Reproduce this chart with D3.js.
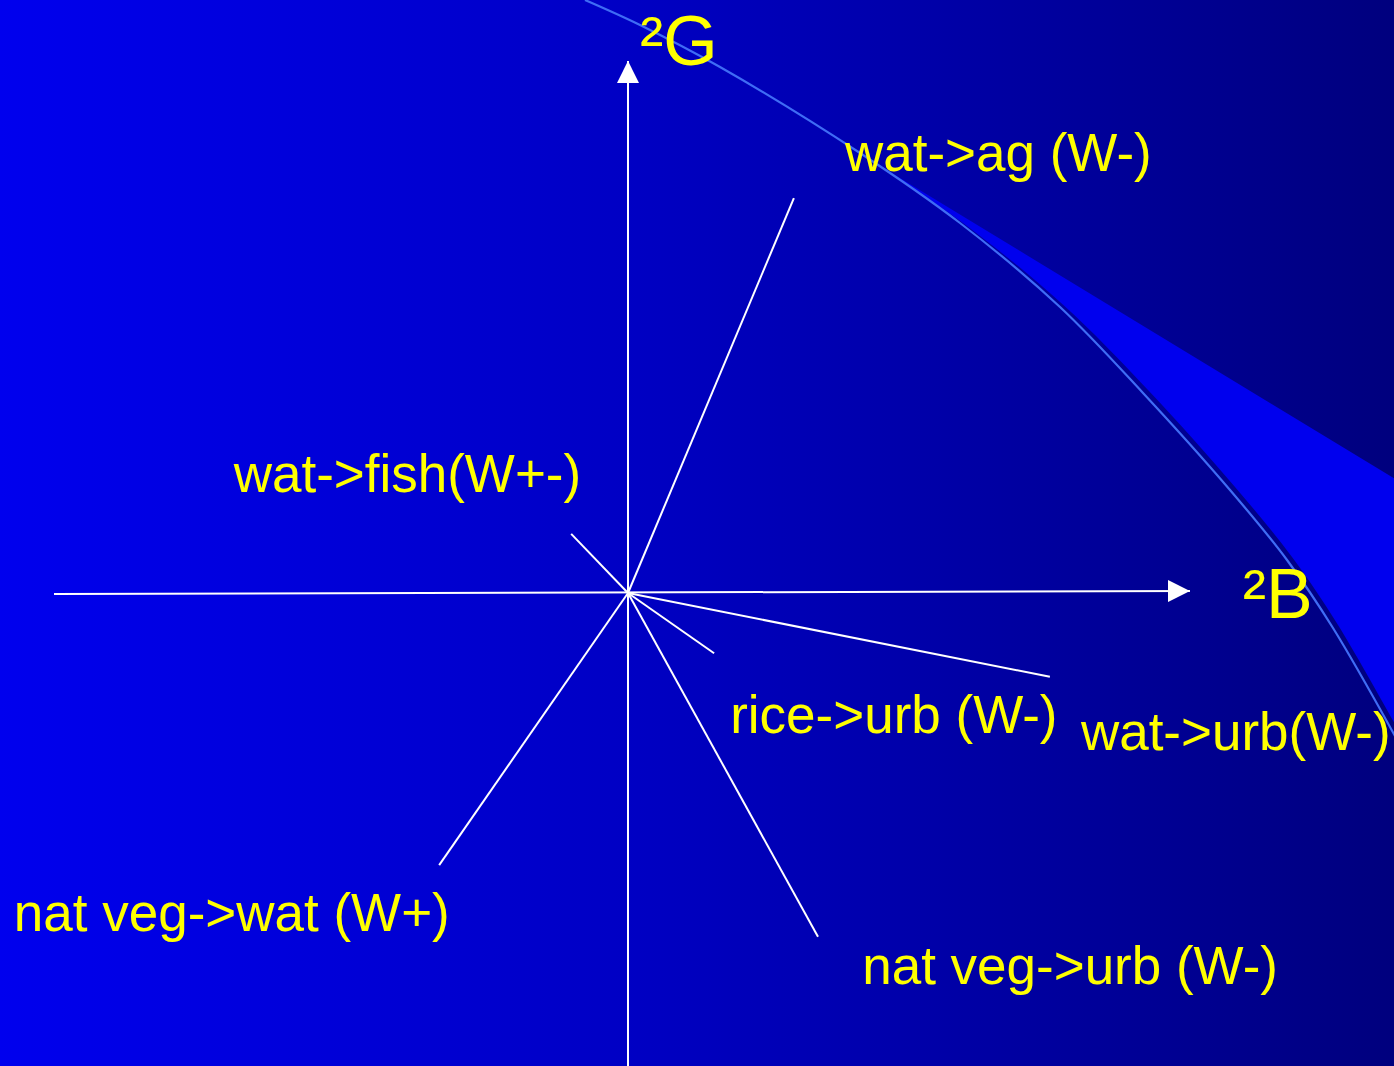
<!DOCTYPE html>
<html>
<head>
<meta charset="utf-8">
<script src="https://cdn.jsdelivr.net/npm/d3@7/dist/d3.min.js"></script>
<style>
  html, body { margin: 0; padding: 0; background: #0000ee; }
  svg { display: block; }
  text { font-family: "Liberation Sans", Arial, sans-serif; fill: #ffff00; }
</style>
</head>
<body>
<svg id="chart"></svg>
<script>
// vector loadings on the two axes (²B horizontal, ²G vertical)
const vectorNames = ["wat->ag (W-)", "wat->fish(W+-)", "wat->urb(W-)", "rice->urb (W-)", "nat veg->urb (W-)", "nat veg->wat (W+)"];
const loadB = [0.289, -0.099, 0.735, 0.150, 0.331, -0.329];
const loadG = [0.688, 0.103, -0.146, -0.105, -0.599, -0.474];
const axisNames = ["²B", "²G"];

// axis extents in loading units
const bExtent = [-1.0, 0.979];
const gExtent = [-0.825, 0.927];

// where each label sits (loading units, left/baseline of text)
const labelB = [0.378, -0.687, 0.789, 0.178, 0.408, -1.070];
const labelG = [0.735, 0.176, -0.273, -0.244, -0.681, -0.588];

const W = 1394, H = 1066;
const FONT = 53;

const svg = d3.select("#chart").attr("width", W).attr("height", H);

const x = d3.scaleLinear().domain([0, 1]).range([628, 628 + 574]);
const y = d3.scaleLinear().domain([0, 1]).range([593, 593 - 574]);

// background gradient
const defs = svg.append("defs");
const grad = defs.append("linearGradient").attr("id", "bg")
  .attr("x1", 0).attr("x2", 1).attr("y1", 0).attr("y2", 0);
grad.append("stop").attr("offset", 0).attr("stop-color", "#0000ee");
grad.append("stop").attr("offset", 0.45).attr("stop-color", "#0000c4");
grad.append("stop").attr("offset", 1).attr("stop-color", "#00007e");

defs.append("marker").attr("id", "arrow")
  .attr("viewBox", "0 0 22 22").attr("refX", 22).attr("refY", 11)
  .attr("markerWidth", 22).attr("markerHeight", 22)
  .attr("markerUnits", "userSpaceOnUse").attr("orient", "auto")
  .append("path").attr("d", "M0,0L22,11L0,22Z").attr("fill", "#fff");

svg.append("rect").attr("width", W).attr("height", H).attr("fill", "url(#bg)");

// decorative swoosh at the top right
const arcPts = [[585,0],[640,25],[720,67],[860,153],[960,223],[1060,307],[1143,393],[1230,490],[1287,560],[1333,628],[1400,745]];
const curve = d3.line().curve(d3.curveCatmullRom);
// lower edge of the bright band: the arc nudged outward, more so further down
const wedgeLow = arcPts.slice(3).map((p, i) => {
  const k = Math.min(1, i / 3);
  return [p[0] + 5 * k, p[1] - 3 * k];
}).reverse();
svg.append("path")
  .attr("d", "M862,155L1400,482" + curve(wedgeLow).replace(/^M/, "L") + "Z")
  .attr("fill", "#0000ee");
svg.append("path")
  .attr("d", curve(arcPts))
  .attr("fill", "none").attr("stroke", "#3f6cf5").attr("stroke-width", 2.2);

// axes
const axes = svg.append("g").attr("stroke", "#fff").attr("stroke-width", 2);
axes.append("line")
  .attr("x1", x(bExtent[0])).attr("y1", y(0) + 1)
  .attr("x2", x(bExtent[1])).attr("y2", y(0) - 2)
  .attr("marker-end", "url(#arrow)");
axes.append("line")
  .attr("x1", x(0)).attr("y1", y(gExtent[0]))
  .attr("x2", x(0)).attr("y2", y(gExtent[1]))
  .attr("marker-end", "url(#arrow)");

// loading vectors
const idx = d3.range(vectorNames.length);
svg.append("g").selectAll("line.vec")
  .data(idx)
  .enter().append("line")
    .attr("class", "vec")
    .attr("x1", x(0)).attr("y1", y(0))
    .attr("x2", i => x(loadB[i]))
    .attr("y2", i => y(loadG[i]))
    .attr("stroke", "#fff")
    .attr("stroke-width", 2);

svg.append("g").selectAll("text.lab")
  .data(idx)
  .enter().append("text")
    .attr("class", "lab")
    .attr("x", i => x(labelB[i]))
    .attr("y", i => y(labelG[i]))
    .attr("font-size", FONT)
    .text(i => vectorNames[i]);

// axis names
svg.append("text")
  .attr("x", x(1.071)).attr("y", y(-0.043))
  .attr("font-size", 70)
  .text(axisNames[0]);
svg.append("text")
  .attr("x", x(0.021)).attr("y", y(0.92))
  .attr("font-size", 70)
  .text(axisNames[1]);
</script>
</body>
</html>
